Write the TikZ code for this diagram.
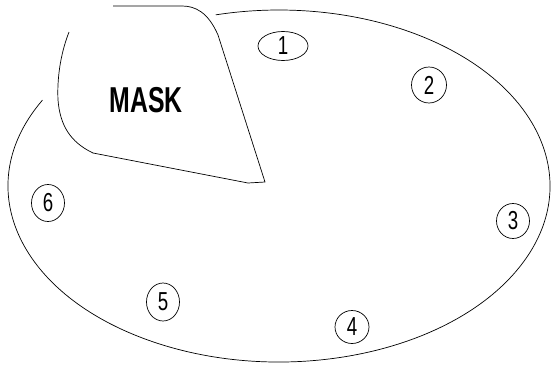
\documentclass[tikz,border=0pt]{standalone}
\usepackage{fontspec}
\setmainfont{Liberation Sans}
\usetikzlibrary{shapes.geometric}
\newcommand{\spotlabel}[1]{\scalebox{0.72}[1]{#1}}

\begin{document}
\begin{tikzpicture}[x=1pt,y=-1pt,line width=0.7pt,
  spot/.style={draw, ellipse, inner sep=0pt, line width=0.7pt,
    font=\fontsize{26}{26}\selectfont}]
  \useasboundingbox (0,0) rectangle (551,364);
  % outer rim, open at the mask
  \coordinate (rimC) at (279,186);
  \draw ([shift={(209.2:271 and 176)}]rimC)
    arc[start angle=209.2, end angle=-103.5, x radius=271, y radius=176];
  % mask
  \coordinate (M1) at (69,32);
  \coordinate (M2) at (58,100);
  \coordinate (M3) at (93,153);
  \coordinate (M4) at (248,183);
  \coordinate (M5) at (265,182);
  \coordinate (M6) at (218,35);
  \coordinate (M7) at (182,6);
  \coordinate (M8) at (113,6);
  \draw (M1) .. controls (60,55) and (57,80) .. (M2)
    .. controls (60,125) and (70,142) .. (M3) -- (M4) -- (M5) -- (M6)
    .. controls (208,12) and (195,6) .. (M7) -- (M8);
  \node[font=\bfseries\fontsize{36}{36}\selectfont] (mask) at (146,100)
    {\scalebox{0.69}[1]{MASK}};
  % numbered spots
  \node[spot, minimum width=50pt, minimum height=29pt] (c1) at (283,46)
    {\spotlabel{1}\hspace{14pt}};
  \node[spot, minimum width=35pt, minimum height=36pt] (c2) at (429,85) {\spotlabel{2}};
  \node[spot, minimum width=33pt, minimum height=35pt] (c3) at (513,221) {\spotlabel{3}};
  \node[spot, minimum width=34pt, minimum height=33pt] (c4) at (352,327) {\spotlabel{4}};
  \node[spot, minimum width=33pt, minimum height=38pt] (c5) at (163,302) {\spotlabel{5}};
  \node[spot, minimum width=33pt, minimum height=37pt] (c6) at (48,203) {\spotlabel{6}};
\end{tikzpicture}
\end{document}
